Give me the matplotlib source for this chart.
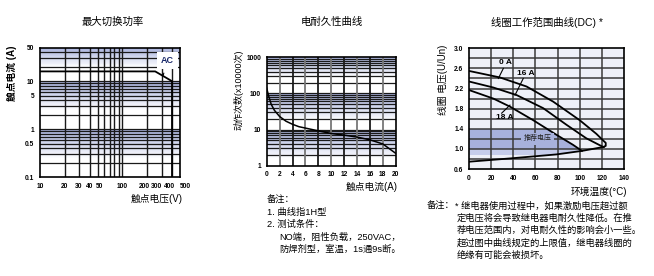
import numpy as np
import matplotlib
matplotlib.use("Agg")
import matplotlib.pyplot as plt
import matplotlib.transforms as mtransforms
from matplotlib.colors import to_rgb
from matplotlib.patches import Polygon

plt.rcParams['font.family'] = ['Liberation Sans', 'Noto Sans CJK SC', 'DejaVu Sans']

W, H = 654, 276

# chart 1: max switching power (AC)
ac_volt = [10, 250, 400, 400]
ac_curr = [16, 16, 10, 0.1]
v_ticks = [10, 20, 30, 40, 50, 100, 200, 300, 400, 500]
i_ticks = [0.1, 0.5, 1, 5, 10, 50]
i_labels = ['0.1', '0.5', '1', '5', '10', '50']

# chart 2: electrical life
life_curr = [0, 0.3, 0.7, 1.2, 2, 3, 4, 5, 6, 8, 10, 12, 14, 16, 18, 20]
life_ops = [140, 85, 50, 34, 23, 17, 14, 12, 11, 9.2, 7.8, 7.0, 6.2, 5.2, 4.0, 2.2]
ops_ticks = [1, 10, 100, 1000]
curr_ticks = list(range(0, 21, 2))

# chart 3: coil operating range
t_0a = [0, 28, 52, 76, 100, 115, 122, 123.5, 123.5, 121.5]
u_0a = [2.55, 2.42, 2.24, 1.94, 1.57, 1.30, 1.15, 1.12, 1.06, 1.04]
t_16a = [0, 22, 43, 67, 88, 106, 121]
u_16a = [2.34, 2.22, 2.07, 1.81, 1.48, 1.21, 1.04]
t_18a = [0, 22, 37, 58, 79, 94, 102]
u_18a = [2.17, 2.00, 1.84, 1.57, 1.28, 1.08, 0.96]
t_min = [0, 37, 79, 102, 122]
u_min = [0.745, 0.81, 0.89, 0.96, 1.04]
temp_ticks = list(range(0, 141, 20))
u_ticks = [0.6, 1.0, 1.4, 1.8, 2.2, 2.6, 3.0]

BLUE = "#a9b3dd"


def box(left, top, right, bottom):
    return [left / W, 1 - bottom / H, (right - left) / W, (bottom - top) / H]


def band(ax, top, bottom, n=24):
    c0 = np.array(to_rgb(BLUE))
    c1 = np.array([1.0, 1.0, 1.0])
    for k in range(n):
        y0 = top * (bottom / top) ** (k / n)
        y1 = top * (bottom / top) ** ((k + 1) / n)
        f = k / n
        ax.axhspan(y1, y0, color=c0 * (1 - f) + c1 * f, lw=0, zorder=0)


def frame(ax):
    for s in ax.spines.values():
        s.set_linewidth(1.2)
        s.set_color("black")
    ax.tick_params(length=0, labelsize=4.8)
    for lab in ax.get_xticklabels() + ax.get_yticklabels():
        lab.set_fontweight("bold")


def nudge(tick, dx):
    tick.label1.set_transform(tick.label1.get_transform() +
                              mtransforms.ScaledTranslation(dx / 100, 0, fig.dpi_scale_trans))


fig = plt.figure(figsize=(6.54, 2.76), dpi=100)

# ---------- chart 1 ----------
ax1 = fig.add_axes(box(40, 47.7, 180, 177))
ax1.set_xscale("log")
ax1.set_yscale("log")
ax1.set_xlim(10, 500)
ax1.set_ylim(0.1, 50)
band(ax1, 50, 20)
band(ax1, 10, 2.5)
band(ax1, 1, 0.25)
for d in [0.1, 1, 10]:
    for m in range(1, 10):
        if 0.1 < d * m < 50:
            ax1.axhline(d * m, color="#1a1a1a", lw=0.9, zorder=1)
for d in [10, 100]:
    for m in range(1, 10):
        if 10 < d * m < 500:
            ax1.axvline(d * m, color="#1a1a1a", lw=1.0, zorder=1)
ax1.plot(ac_volt, ac_curr, color="black", lw=1.3, zorder=3)
ax1.annotate("AC", xy=(313, 13.3), xytext=(350, 27), fontsize=6.5,
             ha="center", va="center", color="#1b2a6b", fontweight="bold",
             bbox=dict(boxstyle="square,pad=0.45", fc="white", ec="none"),
             arrowprops=dict(arrowstyle="-", lw=0.8, color="black", shrinkA=3, shrinkB=0),
             zorder=4)
ax1.set_xticks(v_ticks, [str(v) for v in v_ticks])
ax1.set_yticks(i_ticks, i_labels)
ax1.minorticks_off()
ax1.tick_params(axis="x", pad=4)
ax1.tick_params(axis="y", pad=4)
frame(ax1)
xt = ax1.xaxis.get_major_ticks()
for idx, dx in [(2, -1), (4, 1.5), (6, -3), (7, -5), (8, -2.5), (9, 5)]:
    nudge(xt[idx], dx)

# ---------- chart 2 ----------
ax2 = fig.add_axes(box(266.7, 57.3, 395.7, 165.7))
ax2.set_yscale("log")
ax2.set_xlim(0, 20)
ax2.set_ylim(1, 1000)
band(ax2, 1000, 300)
band(ax2, 100, 18)
band(ax2, 10, 1.6)
for d in [1, 10, 100]:
    for m in range(1, 10):
        if 1 < d * m < 1000:
            ax2.axhline(d * m, color="#1a1a1a", lw=0.9, zorder=1)
for k, x in enumerate(curr_ticks[1:-1]):
    ax2.axvline(x, color="#777777" if k % 2 == 0 else "#1a1a1a", lw=1.3, zorder=1)
ax2.plot(life_curr, life_ops, color="black", lw=1.1, zorder=3)
ax2.set_xticks(curr_ticks, [str(x) for x in curr_ticks])
ax2.set_yticks(ops_ticks, [str(y) for y in ops_ticks])
ax2.minorticks_off()
ax2.tick_params(axis="x", pad=4)
ax2.tick_params(axis="y", pad=4)
frame(ax2)

# ---------- chart 3 ----------
ax3 = fig.add_axes(box(469, 48.3, 624, 169))
ax3.set_xlim(0, 140)
ax3.set_ylim(0.6, 3.0)
ax3.set_facecolor("#eef0f8")
region = Polygon(list(zip(t_18a, u_18a)) + list(zip(t_min[:4][::-1], u_min[:4][::-1])),
                 closed=True, transform=ax3.transData)
r1 = ax3.fill_between([0, 140], 1.0, 1.4, color="#a7b1dc", lw=0, zorder=1)
r2 = ax3.fill_between([0, 140], 0.88, 1.0, color="#c6cdeb", lw=0, zorder=1)
r1.set_clip_path(region)
r2.set_clip_path(region)
for y in np.arange(0.8, 3.0, 0.2):
    ax3.axhline(y, color="#3a3a3a", lw=1.1, zorder=2)
for x in temp_ticks[1:-1]:
    ax3.axvline(x, color="#3a3a3a", lw=1.1, zorder=2)
for t, u in [(t_0a, u_0a), (t_16a, u_16a), (t_18a, u_18a), (t_min, u_min)]:
    ax3.plot(t, u, color="black", lw=1.3, zorder=3)
ax3.text(62, 1.2, "推荐电压", fontsize=5, ha="center", va="center", color="#222222",
         bbox=dict(boxstyle="square,pad=0.4", fc="#a7b1dc", ec="none"), zorder=4)
for lab, txt, pt_a, pt_b in [("0 A", (32.5, 2.71), (31, 2.60), (26.5, 2.40)),
                             ("16 A", (51, 2.49), (49, 2.40), (41.6, 2.07)),
                             ("18 A", (32.5, 1.63), (29.5, 1.71), (37, 1.87))]:
    ax3.text(*txt, lab, fontsize=6, fontweight="bold", ha="center", va="center", zorder=4)
    ax3.plot([pt_a[0], pt_b[0]], [pt_a[1], pt_b[1]], color="black", lw=0.8, zorder=4)
ax3.set_xticks(temp_ticks, [str(x) for x in temp_ticks])
ax3.set_yticks(u_ticks, ["%.1f" % u for u in u_ticks])
ax3.tick_params(axis="x", pad=4)
ax3.tick_params(axis="y", pad=4)
frame(ax3)

# ---------- texts ----------
def ftext(x, y, s, **kw):
    fig.text(x / W, 1 - y / H, s, **kw)

ftext(113, 22, "最大切换功率", fontsize=7.5, ha="center", va="center")
ftext(332, 22, "电耐久性曲线", fontsize=7.5, ha="center", va="center")
ftext(547, 22, "线圈工作范围曲线(DC) *", fontsize=7.5, ha="center", va="center")

ftext(12, 73, "触点电流 (A)", fontsize=7, rotation=90, ha="center", va="center", fontweight="bold")
ftext(238, 90, "动作次数(x10000次)", fontsize=6.5, rotation=90, ha="center", va="center")
ftext(443, 80, "线圈 电压(U/Un)", fontsize=7, rotation=90, ha="center", va="center")

ftext(183, 199, "触点电压(V)", fontsize=7, ha="right", va="center")
ftext(398, 187, "触点电流(A)", fontsize=7, ha="right", va="center")
ftext(627, 192, "环境温度(°C)", fontsize=7, ha="right", va="center")

ftext(267, 200, "备注：", fontsize=6.7, ha="left", va="center")
ftext(267, 212, "1. 曲线指1H型", fontsize=6.7, ha="left", va="center")
ftext(267, 224, "2. 测试条件：", fontsize=6.7, ha="left", va="center")
ftext(279, 237, "NO端，阻性负载，250VAC，", fontsize=6.7, ha="left", va="center")
ftext(279, 249, "防焊剂型，室温，1s通9s断。", fontsize=6.7, ha="left", va="center")

ftext(427, 206, "备注：", fontsize=6.7, ha="left", va="center")
notes3 = ["* 继电器使用过程中，如果激励电压超过额",
          "定电压将会导致继电器电耐久性降低。在推",
          "荐电压范围内，对电耐久性的影响会小一些。",
          "超过图中曲线规定的上限值，继电器线圈的",
          "绝缘有可能会被损坏。"]
for k, line in enumerate(notes3):
    ftext(455 if k == 0 else 457, 206 + 12.3 * k, line, fontsize=6.7, ha="left", va="center")

fig.savefig("out.png", dpi=100)
